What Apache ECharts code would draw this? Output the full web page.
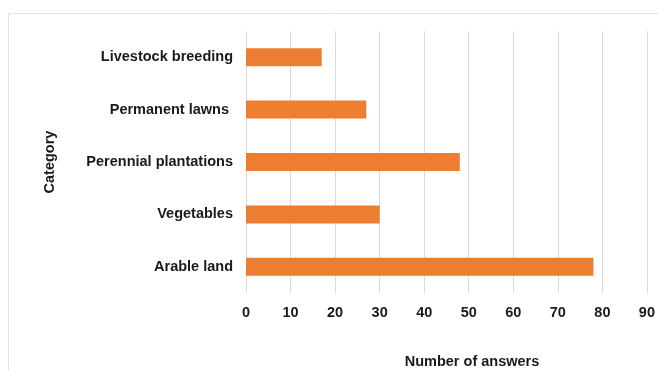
<!DOCTYPE html>
<html><head><meta charset="utf-8">
<script src="https://cdn.jsdelivr.net/npm/echarts@6/dist/echarts.min.js"></script>
<style>html,body{margin:0;padding:0;background:#fff}#c{width:658px;height:370px}</style>
</head><body><div id="c"></div>
<script>
const categories = ['Arable land', 'Vegetables', 'Perennial plantations', 'Permanent lawns ', 'Livestock breeding'];
const values = [78, 30, 48, 27, 17];
const xTicks = {min: 0, max: 90, interval: 10};

const chart = echarts.init(document.getElementById('c'), null, {renderer: 'canvas'});
const font = 'Liberation Sans, Arial, sans-serif';
const fs = 14.5;
chart.setOption({
  backgroundColor: '#fff',
  animation: false,
  graphic: [{
    type: 'rect', shape: {x: 8.5, y: 13.5, width: 700, height: 400},
    style: {fill: 'none', stroke: '#e3e3e3', lineWidth: 1}, silent: true
  }],
  title: {
    text: 'Number of answers', left: 467, top: 349, textAlign: 'center',
    textStyle: {fontFamily: font, fontWeight: 'bold', fontSize: fs, color: '#1a1a1a'}
  },
  grid: {left: 246, right: 7, top: 31, bottom: 77, containLabel: false},
  xAxis: {
    type: 'value', min: xTicks.min, max: xTicks.max, interval: xTicks.interval,
    axisLine: {show: false}, axisTick: {show: false},
    splitLine: {show: true, lineStyle: {color: '#d9d9d9', width: 1}},
    axisLabel: {margin: 12, fontFamily: font, fontWeight: 'bold', fontSize: fs, color: '#1a1a1a'}
  },
  yAxis: {
    type: 'category', data: categories,
    name: 'Category', nameLocation: 'middle', nameGap: 189, nameRotate: 90,
    nameTextStyle: {fontFamily: font, fontWeight: 'bold', fontSize: fs, color: '#1a1a1a'},
    axisLine: {show: false}, axisTick: {show: false},
    axisLabel: {margin: 13, fontFamily: font, fontWeight: 'bold', fontSize: fs, color: '#1a1a1a'}
  },
  series: [{
    type: 'bar', data: values, barWidth: 18,
    itemStyle: {color: '#ED7D31'}
  }]
});
</script></body></html>
